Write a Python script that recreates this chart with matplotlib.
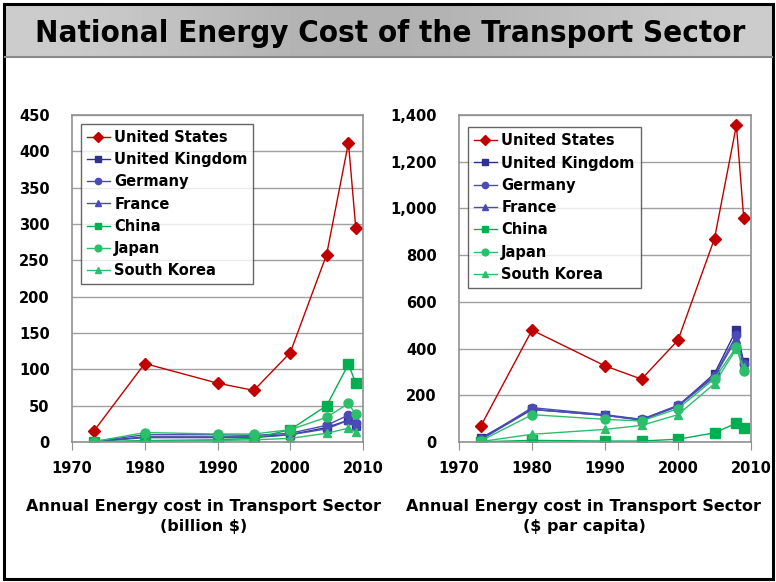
import numpy as np
import matplotlib
matplotlib.use("Agg")
import matplotlib.pyplot as plt
from matplotlib.patches import Rectangle

# --- data ---
years = [1973, 1980, 1990, 1995, 2000, 2005, 2008, 2009]
countries = ["United States", "United Kingdom", "Germany", "France", "China", "Japan", "South Korea"]

# annual energy cost, billion $
total_us = [15, 108, 81, 71, 123, 258, 412, 295]
total_uk = [0.5, 7, 7, 7, 10, 20, 30, 23]
total_de = [0.7, 10, 10, 9, 12, 23, 37, 26]
total_fr = [0.5, 6, 6, 6, 10, 18, 30, 22]
total_cn = [0.3, 2, 3, 5, 17, 50, 107, 81]
total_jp = [0.5, 13, 11, 11, 17, 34, 53, 38]
total_kr = [0.1, 1, 2, 3, 5, 12, 19, 14]

# annual energy cost, $ per capita
capita_us = [69, 479, 326, 269, 436, 871, 1356, 960]
capita_uk = [17, 140, 114, 96, 154, 293, 481, 343]
capita_de = [12, 147, 117, 97, 157, 284, 457, 336]
capita_fr = [10, 139, 114, 93, 153, 279, 443, 329]
capita_cn = [1, 7, 4, 4, 12, 39, 81, 59]
capita_jp = [5, 117, 97, 90, 143, 271, 407, 303]
capita_kr = [2, 33, 54, 71, 117, 250, 400, 320]

red = "#C00000"
blue = "#2E3192"
blue2 = "#4B4BB8"
green = "#00B050"
green2 = "#2DBE6C"
styles = [
    (red, "D", 6.5),
    (blue, "s", 5.5),
    (blue2, "o", 6),
    (blue2, "^", 5.5),
    (green, "s", 6.5),
    (green2, "o", 6.5),
    (green2, "^", 5.5),
]

fig = plt.figure(figsize=(7.76, 5.82), dpi=100)
W, H = 776, 582

# --- frame and title band ---
bg = fig.add_axes([0, 0, 1, 1], zorder=-5)
bg.axis("off")
grad = np.array([[0.80, 0.77, 0.72, 0.69, 0.70, 0.73, 0.77, 0.80]])
bg.imshow(grad, cmap="gray", vmin=0, vmax=1, aspect="auto",
          extent=[5, 772, 57, 5], interpolation="bicubic")
bg.plot([5, 772], [57, 57], color="#8a8a8a", lw=1.5)
bg.add_patch(Rectangle((4, 4), 768.5, 575, fill=False, ec="black", lw=2.2))
bg.set_xlim(0, W)
bg.set_ylim(H, 0)
fig.text(390 / W, 1 - 33 / H, "National Energy Cost of the Transport Sector",
         ha="center", va="center", fontsize=22.4, fontweight="bold",
         family="DejaVu Sans", fontstretch="condensed", color="black")


def panel(rect, series, ymax, ystep, fmt, legend_top):
    ax = fig.add_axes(rect)
    for vals, name, (c, m, ms) in zip(series, countries, styles):
        ax.plot(years, vals, color=c, marker=m, markersize=ms, lw=1.0,
                markeredgecolor=c, label=name)
    ax.set_xlim(1970, 2010)
    ax.set_ylim(0, ymax)
    ax.set_xticks([1970, 1980, 1990, 2000, 2010])
    ax.set_yticks(np.arange(0, ymax + 1, ystep))
    ax.yaxis.set_major_formatter(fmt)
    ax.grid(axis="y", color="#a0a0a0", lw=1)
    ax.set_axisbelow(True)
    for s in ax.spines.values():
        s.set_color("#909090")
        s.set_linewidth(1.2)
    ax.tick_params(axis="x", direction="out", length=6, color="#909090",
                   pad=8, labelsize=10.5)
    ax.tick_params(axis="y", length=0, pad=16, labelsize=10.5)
    for lab in ax.get_xticklabels() + ax.get_yticklabels():
        lab.set_fontweight("bold")
    leg = ax.legend(loc="upper left", bbox_to_anchor=(0.03, legend_top),
                    frameon=True, fancybox=False, edgecolor="#404040",
                    prop={"weight": "bold", "size": 10.5},
                    markerscale=0.75, handlelength=1.6, handletextpad=0.3,
                    labelspacing=0.5, borderpad=0.4, borderaxespad=0)
    leg.get_frame().set_linewidth(1.0)
    return ax


panel([72 / W, 1 - 442 / H, 291 / W, 327 / H],
      [total_us, total_uk, total_de, total_fr, total_cn, total_jp, total_kr],
      450, 50, matplotlib.ticker.StrMethodFormatter("{x:.0f}"), 0.973)
panel([459 / W, 1 - 442 / H, 292 / W, 327 / H],
      [capita_us, capita_uk, capita_de, capita_fr, capita_cn, capita_jp, capita_kr],
      1400, 200, matplotlib.ticker.StrMethodFormatter("{x:,.0f}"), 0.962)

for cx, unit in [(204, "(billion $)"), (584, "($ par capita)")]:
    fig.text(cx / W, 1 - 506 / H, "Annual Energy cost in Transport Sector",
             ha="center", va="center", fontsize=11.5, fontweight="bold")
    fig.text(cx / W, 1 - 526 / H, unit,
             ha="center", va="center", fontsize=11.5, fontweight="bold")

fig.savefig("out.png", dpi=100)
